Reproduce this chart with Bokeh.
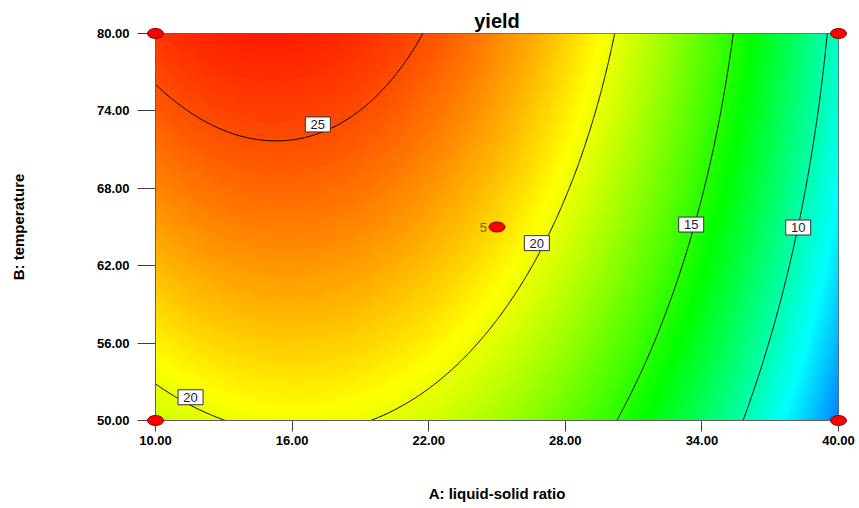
import numpy as np
from bokeh.plotting import figure
from bokeh.models import Range1d, FixedTicker, LinearColorMapper, NumeralTickFormatter
from bokeh.embed import file_html
from bokeh.resources import INLINE
from bokeh.core.properties import value

# ---------------- data ----------------
x_ticks = [10, 16, 22, 28, 34, 40]
y_ticks = [50, 56, 62, 68, 74, 80]
levels = [10, 15, 20, 25]

# quadratic model of yield in coded units (a = (A-25)/15, b = (B-65)/15),
# estimated from the contour lines of the reference
model_terms = ["const", "a", "b", "ab", "a2", "b2"]
model_coef = [21.39, -7.59, 2.65, -0.54, -6.05, -0.52]

# design points
design_A = [10, 10, 40, 40, 25]
design_B = [50, 80, 50, 80, 65]
center_runs = ["5"]

# contour labels
lab_A = [17.13, 26.75, 33.53, 38.23, 11.54]
lab_B = [72.95, 63.75, 65.19, 64.96, 51.8]
lab_text = ["25", "20", "15", "10", "20"]

# colour ramp of the response
stop_vals = [2.0, 8.0, 14.0, 20.5, 27.0]
stop_r = [0, 0, 0, 255, 255]
stop_g = [0, 255, 255, 255, 0]
stop_b = [255, 255, 0, 0, 0]

# ---------------- response surface on a grid ----------------
gx = np.linspace(10, 40, 361)
gy = np.linspace(50, 80, 361)
GA, GB = np.meshgrid(gx, gy)
ga = (GA - 25.0) / 15.0
gb = (GB - 65.0) / 15.0
c0, c_a, c_b, c_ab, c_a2, c_b2 = model_coef
Z = c0 + c_a * ga + c_b * gb + c_ab * ga * gb + c_a2 * ga ** 2 + c_b2 * gb ** 2

vals = np.linspace(stop_vals[0], stop_vals[-1], 256)
pal = ["#%02x%02x%02x" % (int(round(r)), int(round(g)), int(round(b)))
       for r, g, b in zip(np.interp(vals, stop_vals, stop_r),
                          np.interp(vals, stop_vals, stop_g),
                          np.interp(vals, stop_vals, stop_b))]
mapper = LinearColorMapper(palette=pal, low=stop_vals[0], high=stop_vals[-1])

# ---------------- figure ----------------
p = figure(width=855, height=504, output_backend="svg", toolbar_location=None,
           x_range=Range1d(10, 40), y_range=Range1d(50, 80),
           min_border_left=155, min_border_right=17, min_border_top=33, min_border_bottom=84,
           title="yield")
p.title.align = "center"
p.title.text_font = "Liberation Sans"
p.title.text_font_size = "20px"
p.title.text_font_style = "bold"
p.title.text_color = "black"
p.title.standoff = 4
p.grid.visible = False
p.outline_line_color = "#606060"
p.background_fill_color = "white"

p.image(image=[Z], x=10, y=50, dw=30, dh=30, color_mapper=mapper)
p.contour(gx, gy, Z, levels=levels, line_color="black", line_width=1.0)

p.rect(x=lab_A, y=lab_B, width=25, height=15, width_units="screen", height_units="screen",
       fill_color="white", line_color="#303030", line_width=1)
p.text(x=lab_A, y=lab_B, text=lab_text, text_align="center", text_baseline="middle",
       text_font=value("Liberation Sans"), text_font_size="13px", text_color="#1a1a3a")

p.ellipse(x=design_A, y=design_B, width=16, height=10, width_units="screen", height_units="screen",
          fill_color="#ff0000", line_color="#7a0000", line_width=1, level="overlay")
p.text(x=[25], y=[65], text=center_runs, x_offset=-10, text_align="right", text_baseline="middle",
       text_font=value("Liberation Sans"), text_font_size="13px", text_color="#7a6010")

for ax, ticks in ((p.xaxis, x_ticks), (p.yaxis, y_ticks)):
    ax.ticker = FixedTicker(ticks=ticks)
    ax.formatter = NumeralTickFormatter(format="0.00")
    ax.minor_tick_line_color = None
    ax.major_tick_in = 0
    ax.axis_line_color = "#606060"
    ax.major_tick_line_color = "#404040"
    ax.major_label_text_font = "Liberation Sans"
    ax.major_label_text_font_size = "13px"
    ax.major_label_text_font_style = "bold"
    ax.major_label_text_color = "black"
    ax.axis_label_text_font = "Liberation Sans"
    ax.axis_label_text_font_size = "15px"
    ax.axis_label_text_font_style = "bold"
    ax.axis_label_text_color = "black"

p.xaxis.axis_label = "A: liquid-solid ratio"
p.yaxis.axis_label = "B: temperature"
p.xaxis.major_tick_out = 11
p.xaxis.major_label_standoff = 4
p.xaxis.axis_label_standoff = 37
p.yaxis.major_tick_out = 18
p.yaxis.major_label_standoff = 8
p.yaxis.axis_label_standoff = 67

open("out.html", "w").write(file_html(p, INLINE))
